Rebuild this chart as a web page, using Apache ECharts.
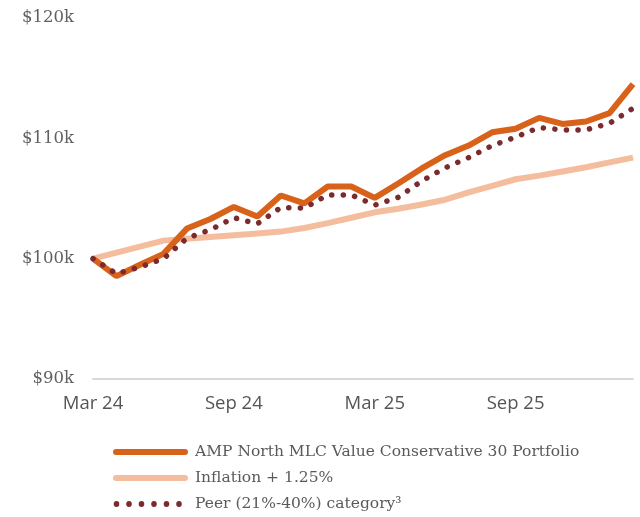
<!DOCTYPE html>
<html>
<head>
<meta charset="utf-8">
<script src="https://cdn.jsdelivr.net/npm/echarts@6/dist/echarts.min.js"></script>
<style>
  html, body { margin: 0; padding: 0; background: #fff; }
  #chart { width: 640px; height: 517px; }
</style>
</head>
<body>
<div id="chart"></div>
<script>
// Monthly growth of a $100k investment, Mar 24 – Feb 26 (values in $k)
const months = [
  'Mar 24', 'Apr 24', 'May 24', 'Jun 24', 'Jul 24', 'Aug 24',
  'Sep 24', 'Oct 24', 'Nov 24', 'Dec 24', 'Jan 25', 'Feb 25',
  'Mar 25', 'Apr 25', 'May 25', 'Jun 25', 'Jul 25', 'Aug 25',
  'Sep 25', 'Oct 25', 'Nov 25', 'Dec 25', 'Jan 26', 'Feb 26'
];
const shownMonths = ['Mar 24', 'Sep 24', 'Mar 25', 'Sep 25'];

const portfolio = [
  100.0, 98.55, 99.5, 100.4, 102.5, 103.3,
  104.3, 103.5, 105.25, 104.6, 106.0, 106.0,
  105.05, 106.25, 107.5, 108.6, 109.4, 110.5,
  110.8, 111.7, 111.2, 111.4, 112.1, 114.5
];
const inflation = [
  100.0, 100.5, 101.0, 101.5, 101.65, 101.8,
  101.95, 102.1, 102.25, 102.55, 102.95, 103.4,
  103.85, 104.15, 104.5, 104.9, 105.5, 106.05,
  106.6, 106.9, 107.25, 107.6, 108.0, 108.4
];
const peer = [
  100.0, 98.75, 99.3, 100.0, 101.7, 102.4,
  103.4, 102.9, 104.25, 104.2, 105.3, 105.3,
  104.45, 105.1, 106.45, 107.55, 108.4, 109.4,
  110.1, 110.9, 110.7, 110.7, 111.25, 112.5
];
const yTicks = [90, 100, 110, 120];

const names = {
  portfolio: 'AMP North MLC Value Conservative 30 Portfolio',
  inflation: 'Inflation + 1.25%',
  peer: 'Peer (21%-40%) category\u00B3'
};

const colors = {
  portfolio: '#d9621b',
  inflation: '#f4bd9d',
  peer: '#7b2b2e'
};

// Legend keys: a rounded bar for solid lines, a row of dots for the dotted one
const barIcon = 'path://M3,0 L72,0 A3,3 0 0 1 72,6 L3,6 A3,3 0 0 1 3,0 Z';
const dotIcon = 'path://M0,3 ' +
  [3.5, 16, 28.5, 41, 53.5, 66].map(cx =>
    `M${cx - 2.8},3 A2.8,2.8 0 1 0 ${cx + 2.8},3 A2.8,2.8 0 1 0 ${cx - 2.8},3 Z`
  ).join(' ') + ' M75,3';

const chart = echarts.init(document.getElementById('chart'), null, { renderer: 'canvas' });

chart.setOption({
  animation: false,
  backgroundColor: '#ffffff',
  grid: { left: 93, right: 7, top: 18, bottom: 138, containLabel: false },
  legend: {
    orient: 'vertical',
    left: 113,
    top: 443.5,
    height: 80,
    padding: 0,
    itemWidth: 75,
    itemHeight: 6,
    itemGap: 9,
    symbolKeepAspect: false,
    textStyle: {
      fontFamily: 'DejaVu Serif', fontSize: 15.5, lineHeight: 17,
      color: '#5a5a5a', padding: [0, 0, 0, 2]
    },
    data: [
      { name: names.portfolio, icon: barIcon, itemStyle: { color: colors.portfolio } },
      { name: names.inflation, icon: barIcon, itemStyle: { color: colors.inflation } },
      { name: names.peer, icon: dotIcon, itemStyle: { color: colors.peer } }
    ]
  },
  xAxis: {
    type: 'category',
    data: months,
    boundaryGap: false,
    axisLine: { show: true, lineStyle: { color: '#d9d9d9', width: 2 } },
    axisTick: { show: false },
    splitLine: { show: false },
    axisLabel: {
      interval: 0,
      margin: 15,
      fontFamily: 'Open Sans',
      fontSize: 18.5,
      color: '#555555',
      formatter: v => (shownMonths.includes(v) ? v : '')
    }
  },
  yAxis: {
    type: 'value',
    min: yTicks[0],
    max: yTicks[yTicks.length - 1],
    interval: 10,
    axisLine: { show: false },
    axisTick: { show: false },
    splitLine: { show: false },
    axisLabel: {
      margin: 19,
      fontFamily: 'DejaVu Serif',
      fontSize: 16.5,
      color: '#606060',
      formatter: v => '$' + v + 'k'
    }
  },
  series: [
    {
      name: names.inflation,
      type: 'line',
      data: inflation,
      showSymbol: false,
      symbol: 'none',
      z: 1,
      lineStyle: { color: colors.inflation, width: 6 },
      itemStyle: { color: colors.inflation }
    },
    {
      name: names.portfolio,
      type: 'line',
      data: portfolio,
      showSymbol: false,
      symbol: 'none',
      z: 2,
      lineStyle: { color: colors.portfolio, width: 6 },
      itemStyle: { color: colors.portfolio }
    },
    {
      name: names.peer,
      type: 'line',
      data: peer,
      showSymbol: false,
      symbol: 'none',
      z: 3,
      lineStyle: { color: colors.peer, width: 5.5, type: [0.1, 11.5], cap: 'round' },
      itemStyle: { color: colors.peer }
    }
  ]
});
</script>
</body>
</html>
